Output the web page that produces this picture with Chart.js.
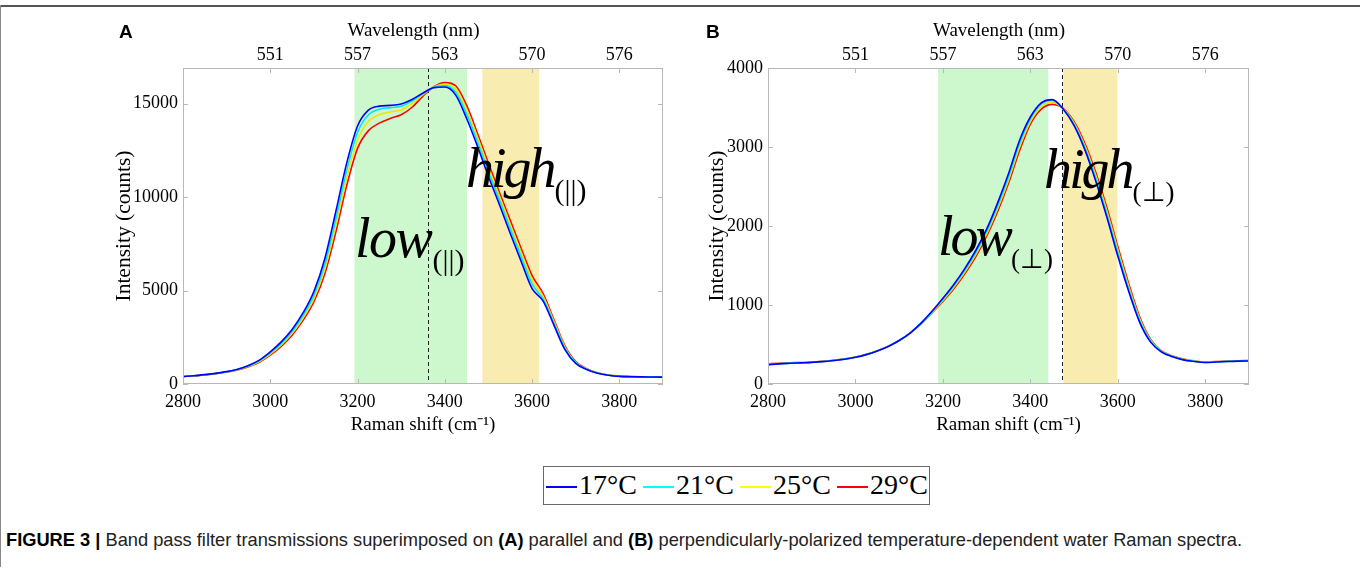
<!DOCTYPE html>
<html><head><meta charset="utf-8">
<script src="https://cdn.jsdelivr.net/npm/chart.js@4.4.1/dist/chart.umd.min.js"></script>
<style>
html,body{margin:0;padding:0;background:#fff;}
body{width:1360px;height:573px;position:relative;overflow:hidden;}
canvas{position:absolute;top:0;}
#cA{left:0;}
#cB{left:690px;}
.rule{position:absolute;background:#555;}
.panel{position:absolute;top:21px;font:bold 19px "Liberation Sans",Arial,sans-serif;color:#000;}
#legend{position:absolute;left:543px;top:466px;width:387px;height:39px;border:1px solid #6a6a6a;box-sizing:border-box;background:#fff;}
#legend .ln{position:absolute;height:2px;top:19px;width:31px;}
#legend .tx{position:absolute;top:1px;font:28px "Liberation Serif","Times New Roman",serif;line-height:34px;color:#000;}
#caption{position:absolute;left:6px;top:529px;white-space:nowrap;font-family:"Liberation Sans Narrow","Arial Narrow","Liberation Sans",Arial,sans-serif;font-size:18.5px;color:#222;transform-origin:left top;}
#caption b{color:#000;}
</style>
</head><body>
<div class="rule" style="left:0;top:5px;width:1360px;height:2px;"></div>
<div class="rule" style="left:0;top:5px;width:1px;height:562px;background:#888;"></div>
<canvas id="cA" width="700" height="450"></canvas>
<canvas id="cB" width="670" height="450"></canvas>
<div class="panel" style="left:119px;">A</div>
<div class="panel" style="left:706px;">B</div>
<div id="legend"></div>
<div id="caption"><b>FIGURE 3 |</b> Band pass filter transmissions superimposed on <b>(A)</b> parallel and <b>(B)</b> perpendicularly-polarized temperature-dependent water Raman spectra.</div>
<script>
// ---------------- DATA ----------------
const ramanShift = [2800,2825,2850,2875,2900,2925,2950,2975,3000,3025,3050,3075,3100,3125,3150,3175,3200,3225,3250,3275,3300,3325,3350,3375,3400,3425,3450,3475,3500,3525,3550,3575,3600,3625,3650,3675,3700,3725,3750,3775,3800,3825,3850,3875,3900];

const seriesNames = ["17°C","21°C","25°C","29°C"];
const seriesColors = ["#0000ff","#00e8f0","#e8e800","#ff0000"];
const legendColors = ["#0000ff","#00ffff","#ffff00","#ff0000"];

// Panel A: parallel polarization
const par17 = [400,440,500,570,660,790,990,1280,1720,2250,2920,3800,4950,6700,9200,11800,13800,14650,14860,14900,14980,15220,15560,15850,15880,15450,14200,12700,11100,9600,8050,6550,5100,4450,3150,1850,1100,780,580,470,410,390,380,375,370];
const par21 = [400,438,497,565,655,780,970,1245,1660,2170,2810,3660,4750,6400,8800,11400,13450,14400,14700,14780,14860,15130,15530,15870,15960,15600,14450,12950,11350,9850,8300,6800,5350,4550,3250,1920,1130,790,585,472,412,392,382,377,372];
const par25 = [400,437,493,560,648,765,945,1205,1600,2090,2710,3530,4570,6150,8450,11000,13050,14050,14400,14550,14660,15000,15480,15890,16040,15780,14680,13180,11580,10050,8520,7020,5580,4700,3350,1990,1160,805,592,476,416,393,383,378,373];
const par29 = [400,435,490,555,640,750,920,1165,1540,2010,2610,3400,4400,5900,8100,10600,12600,13550,13950,14200,14400,14800,15400,15900,16120,15950,14900,13400,11800,10250,8750,7250,5800,4850,3450,2050,1200,820,600,480,420,395,385,380,375];

// Panel B: perpendicular polarization
const perp17 = [245,255,262,268,274,283,297,314,338,372,418,475,550,645,770,920,1085,1260,1460,1690,1960,2290,2660,3080,3380,3560,3600,3480,3270,2960,2560,2110,1620,1170,780,530,405,345,305,285,272,278,285,290,292];
const perp21 = [248,257,264,269,275,284,298,315,339,373,419,476,551,645,767,913,1072,1243,1438,1663,1930,2255,2620,3040,3355,3545,3590,3483,3285,2985,2595,2150,1660,1200,805,542,410,348,308,287,274,280,287,292,294];
const perp25 = [251,259,266,270,276,285,299,316,340,374,420,477,551,645,765,907,1058,1224,1416,1637,1900,2218,2580,2995,3322,3512,3565,3487,3302,3012,2632,2190,1700,1235,828,553,415,352,312,290,277,282,288,293,296];
const perp29 = [255,262,268,272,277,287,300,318,342,376,422,478,552,645,762,900,1045,1205,1395,1610,1870,2180,2540,2950,3290,3480,3540,3490,3320,3040,2670,2230,1740,1270,850,565,420,355,315,292,280,283,290,295,298];

// Axes / ticks
const xRange = [2800, 3900];
const xTicks = [2800,3000,3200,3400,3600,3800];
const wavelengthTicks = [3000,3200,3400,3600,3800];
const wavelengthLabels = ["551","557","563","570","576"];
const yTicksA = [0,5000,10000,15000];
const yMaxA = 16900;
const yTicksB = [0,1000,2000,3000,4000];
const yMaxB = 4000;

// Band-pass filter windows (Raman shift, cm-1) and dashed centre line
const bandsA = {low:[3193,3451], high:[3486,3616], centre:3361};
const bandsB = {low:[3189,3441], high:[3475,3599], centre:3473};

// ---------------- RENDER ----------------
const SERIF = '"Liberation Serif","Times New Roman",serif';
const GREEN = '#cdf8cd', YELLOW = '#f9ecb0', BOX = '#b8b8b8';

const overlay = {
  id:'overlay',
  beforeDatasetsDraw(chart, args, o){
    const {ctx, chartArea:a, scales:{x}} = chart;
    ctx.save();
    [[o.bands.low, GREEN],[o.bands.high, YELLOW]].forEach(([b,c])=>{
      const x0 = x.getPixelForValue(b[0]), x1 = x.getPixelForValue(b[1]);
      ctx.fillStyle = c; ctx.fillRect(x0, a.top, x1-x0, a.bottom-a.top);
    });
    const xd = Math.round(x.getPixelForValue(o.bands.centre))+0.5;
    ctx.strokeStyle='#222'; ctx.lineWidth=1; ctx.setLineDash([4,3]);
    ctx.beginPath(); ctx.moveTo(xd,a.top); ctx.lineTo(xd,a.bottom); ctx.stroke();
    ctx.restore();
  },
  afterDatasetsDraw(chart, args, o){
    const {ctx, chartArea:a, scales:{x,y}} = chart;
    ctx.save();
    ctx.strokeStyle = BOX; ctx.lineWidth = 1;
    ctx.strokeRect(a.left+0.5, a.top+0.5, a.right-a.left-1, a.bottom-a.top-1);
    ctx.beginPath();
    xTicks.forEach(v=>{ const p=Math.round(x.getPixelForValue(v))+0.5;
      ctx.moveTo(p,a.bottom); ctx.lineTo(p,a.bottom-5); });
    wavelengthTicks.forEach(v=>{ const p=Math.round(x.getPixelForValue(v))+0.5;
      ctx.moveTo(p,a.top); ctx.lineTo(p,a.top+5); });
    o.yTicks.forEach(v=>{ const p=Math.round(y.getPixelForValue(v))+0.5;
      ctx.moveTo(a.left,p); ctx.lineTo(a.left+5,p); ctx.moveTo(a.right,p); ctx.lineTo(a.right-5,p); });
    ctx.stroke();
    ctx.restore();
  },
  afterDraw(chart, args, o){
    const ctx = chart.ctx;
    ctx.save(); ctx.fillStyle='#000'; ctx.textBaseline='alphabetic'; ctx.textAlign='left';
    o.labels.forEach(l=>{
      ctx.font = 'italic 56px '+SERIF;
      ctx.letterSpacing = l.ls+'px';
      ctx.fillText(l.word, l.x, l.y);
      const w = ctx.measureText(l.word).width;
      ctx.letterSpacing = '0px';
      ctx.font = l.subSize+'px '+SERIF;
      ctx.fillText(l.sub, l.x+w+1, l.y+13);
    });
    ctx.restore();
  }
};

function makeChart(id, series, yTicks, yMax, bands, geo, labels){
  const datasets = series.map((s,i)=>({
    label: seriesNames[i],
    data: ramanShift.map((xv,k)=>({x:xv, y:s[k]})),
    borderColor: seriesColors[i], borderWidth:1.6, pointRadius:0,
    tension:0.4, cubicInterpolationMode:'monotone', fill:false
  }));
  const xTitleFont = {family:SERIF, size:19};
  const yTitleFont = {family:SERIF, size:21.5};
  const tickFont = {family:SERIF, size:18};
  return new Chart(document.getElementById(id), {
    type:'line',
    data:{datasets},
    plugins:[overlay],
    options:{
      responsive:false, devicePixelRatio:1, animation:false,
      layout:{padding:{left:0, right:geo.padRight, top:0, bottom:0}},
      plugins:{legend:{display:false}, tooltip:{enabled:false},
        overlay:{bands, yTicks, labels}},
      scales:{
        x:{type:'linear', position:'bottom', min:xRange[0], max:xRange[1],
          grid:{display:false, drawTicks:false}, border:{display:false},
          afterBuildTicks:s=>{ s.ticks = xTicks.map(v=>({value:v})); },
          afterFit:s=>{ s.height = geo.bottomH; },
          ticks:{font:tickFont, color:'#000', padding:7, maxRotation:0, autoSkip:false,
            callback:v=>String(v)},
          title:{display:true, text:'Raman shift (cm\u207B\u00B9)', font:xTitleFont, color:'#000', padding:{top:0,bottom:14}}
        },
        x2:{type:'linear', position:'top', min:xRange[0], max:xRange[1],
          grid:{display:false, drawTicks:false}, border:{display:false},
          afterBuildTicks:s=>{ s.ticks = wavelengthTicks.map(v=>({value:v})); },
          afterFit:s=>{ s.height = geo.top; },
          ticks:{font:tickFont, color:'#000', padding:2, maxRotation:0, autoSkip:false,
            callback:(v,i)=>wavelengthLabels[i]},
          title:{display:true, text:'Wavelength (nm)\u2003', font:xTitleFont, color:'#000', padding:{top:20,bottom:0}}
        },
        y:{type:'linear', position:'left', min:0, max:yMax,
          grid:{display:false, drawTicks:false}, border:{display:false},
          afterBuildTicks:s=>{ s.ticks = yTicks.map(v=>({value:v})); },
          afterFit:s=>{ s.width = geo.left; },
          ticks:{font:tickFont, color:'#000', padding:5, callback:v=>String(v)},
          title:{display:true, text:'Intensity (counts)', font:yTitleFont, color:'#000', padding:{top:geo.yTitlePad,bottom:0}}
        }
      }
    }
  });
}

makeChart('cA', [par17,par21,par25,par29], yTicksA, yMaxA, bandsA,
  {left:183, padRight:37, top:68, bottomH:66, yTitlePad:111},
  [{word:'low', sub:'(||)', x:355, y:257, ls:-1.5, subSize:30},
   {word:'high', sub:'(||)', x:466, y:187, ls:-3, subSize:30}]);

makeChart('cB', [perp17,perp21,perp25,perp29], yTicksB, yMaxB, bandsB,
  {left:78, padRight:111, top:68, bottomH:66, yTitlePad:14},
  [{word:'low', sub:'(\u22A5)', x:248, y:255, ls:-3, subSize:27},
   {word:'high', sub:'(\u22A5)', x:354, y:188, ls:-3, subSize:27}]);

// legend (from series arrays)
const lg = document.getElementById('legend');
seriesNames.forEach((n,i)=>{
  const ln = document.createElement('div'); ln.className='ln';
  ln.style.left = (2+i*97)+'px'; ln.style.background = legendColors[i];
  const tx = document.createElement('div'); tx.className='tx';
  tx.style.left = (35+i*97)+'px'; tx.textContent = n;
  lg.appendChild(ln); lg.appendChild(tx);
});

// caption width fit
const cap = document.getElementById('caption');
const w = cap.getBoundingClientRect().width;
cap.style.transform = 'scaleX('+(1236/w)+')';
</script>
</body></html>
